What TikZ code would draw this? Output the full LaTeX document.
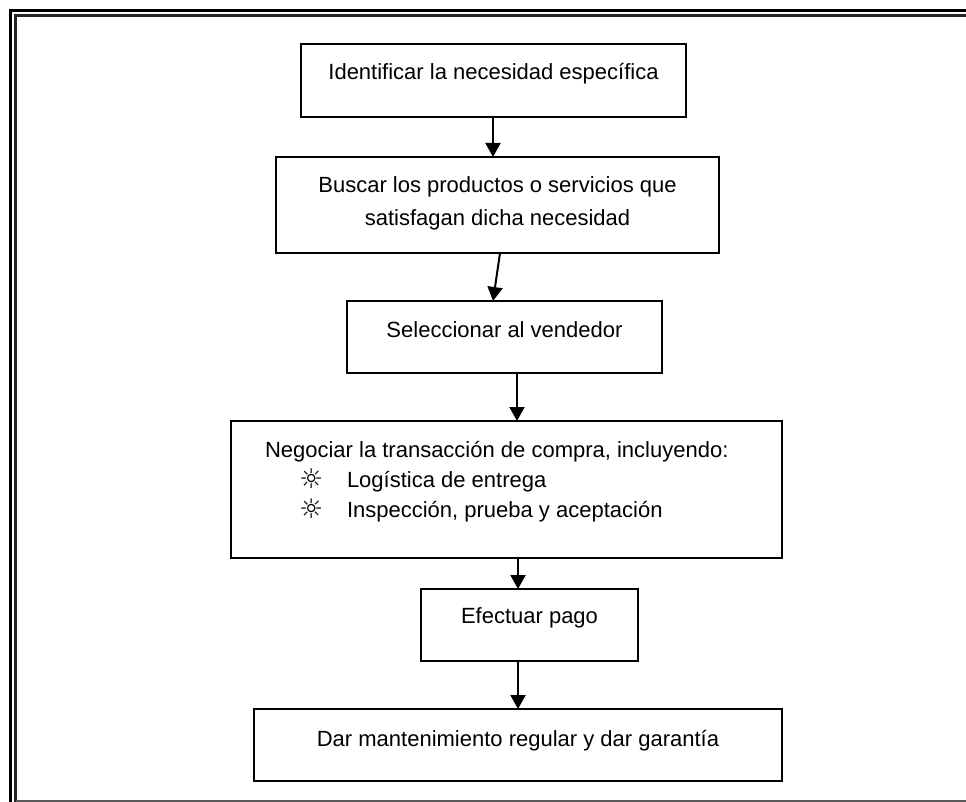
\documentclass[tikz,border=0pt]{standalone}
\usepackage{fontspec}
\setmainfont{Liberation Sans}
\newfontfamily\symfont{DejaVu Sans}
\usetikzlibrary{arrows.meta}

% bullet sign used in the negotiation step
\newcommand{\sunmark}{\smash{\raisebox{-1.5pt}{\symfont\fontsize{27pt}{27pt}\selectfont ☼}}}

\tikzset{
  stepbox/.style={draw=black, line width=2pt, rectangle, inner sep=0pt, outer sep=0pt},
  lbl/.style={inner sep=0pt, outer sep=0pt, font=\fontsize{22pt}{33pt}\selectfont},
  flow/.style={draw=black, line width=2pt, -{Triangle[length=14pt,width=15pt]}},
}

\begin{document}
\begin{tikzpicture}[x=1pt, y=-1pt]
  \useasboundingbox (0,0) rectangle (966,802);

  % double page frame, open on the right
  \draw[black, line width=3pt] (10.5,802) -- (10.5,10.5) -- (966,10.5);
  \draw[black!85, line width=2.5pt] (15.5,802) -- (15.5,15.5) -- (966,15.5);
  \draw[black!65, line width=2pt] (15.5,801) -- (966,801);

  % process steps
  \node[stepbox, minimum width=385pt, minimum height=73pt] (b1) at (493.5,80.5) {};
  \node[stepbox, minimum width=443pt, minimum height=96pt] (b2) at (497.5,205) {};
  \node[stepbox, minimum width=315pt, minimum height=72pt] (b3) at (504.5,337) {};
  \node[stepbox, minimum width=551pt, minimum height=137pt] (b4) at (506.5,489.5) {};
  \node[stepbox, minimum width=217pt, minimum height=72pt] (b5) at (529.5,625) {};
  \node[stepbox, minimum width=528pt, minimum height=72pt] (b6) at (518,745) {};

  % step texts
  \node[lbl, anchor=base] (t1) at (493.5,80) {Identificar la necesidad específica};
  \node[lbl, anchor=base] (t2) at (497.5,193)
    {\begin{tabular}[t]{@{}c@{}}Buscar los productos o servicios que\\ satisfagan dicha necesidad\end{tabular}};
  \node[lbl, anchor=base] (t3) at (504.5,337) {Seleccionar al vendedor};
  \node[lbl, anchor=base west, font=\fontsize{22pt}{30pt}\selectfont] (t4) at (265,457)
    {\begin{tabular}[t]{@{}l@{}}Negociar la transacción de compra, incluyendo:\\
      \makebox[82pt][l]{\hspace{34pt}\sunmark}Logística de entrega\\
      \makebox[82pt][l]{\hspace{34pt}\sunmark}Inspección, prueba y aceptación\end{tabular}};
  \node[lbl, anchor=base] (t5) at (529.5,623) {Efectuar pago};
  \node[lbl, anchor=base] (t6) at (518,746) {Dar mantenimiento regular y dar garantía};

  % connectors
  \draw[flow] (b1.south -| 493,0) -- (b2.north -| 493,0);
  \draw[flow] (b2.south -| 500,0) -- (b3.north -| 493,0);
  \draw[flow] (b3.south -| 517,0) -- (b4.north -| 517,0);
  \draw[flow] (b4.south -| 518,0) -- (b5.north -| 518,0);
  \draw[flow] (b5.south -| 518,0) -- (b6.north -| 518,0);
\end{tikzpicture}
\end{document}
